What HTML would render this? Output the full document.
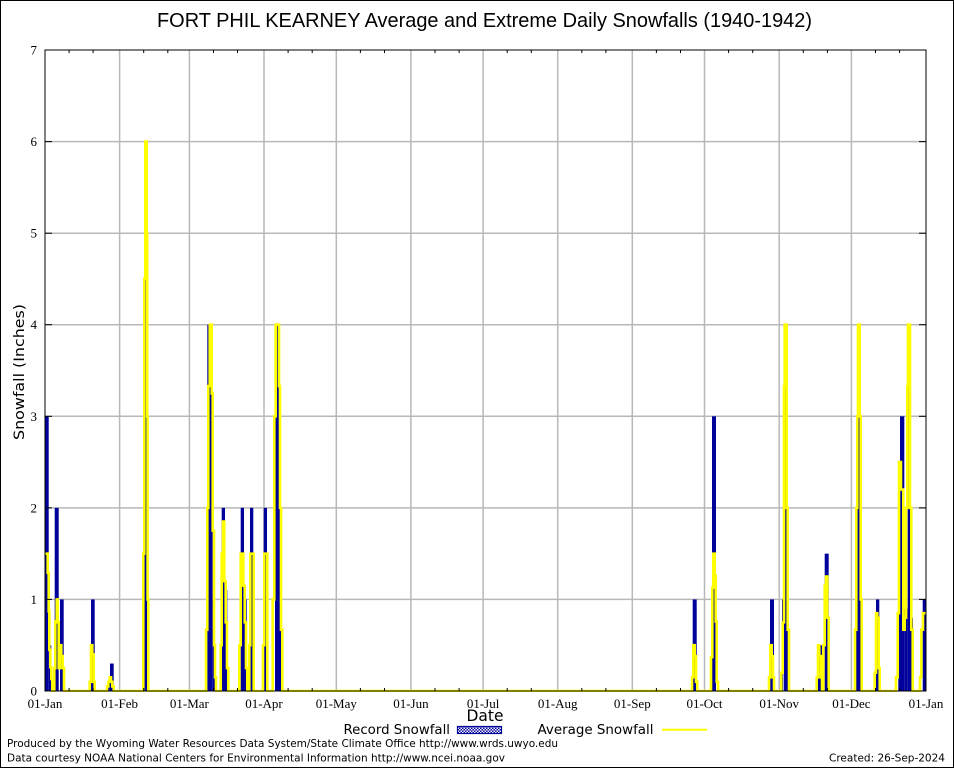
<!DOCTYPE html>
<html>
<head>
<meta charset="utf-8">
<style>
html,body{margin:0;padding:0;background:#fff;}
svg{display:block;}
.ser{font-family:"Liberation Serif","DejaVu Serif",serif;font-size:13px;fill:#000;}
.sans{font-family:"DejaVu Sans","Liberation Sans",sans-serif;fill:#000;}
</style>
</head>
<body>
<svg width="954" height="768" viewBox="0 0 954 768" xmlns="http://www.w3.org/2000/svg">
<defs>
<clipPath id="pc"><rect x="45" y="50" width="881" height="642"/></clipPath>
<pattern id="hatch" width="3" height="3" patternUnits="userSpaceOnUse">
<rect width="3" height="3" fill="#00009a"/>
<rect x="0" y="0" width="1.5" height="1.5" fill="#fff"/>
<rect x="1.5" y="1.5" width="1.5" height="1.5" fill="#fff"/>
</pattern>
</defs>
<rect x="0" y="0" width="954" height="768" fill="#fff"/>
<rect x="0.5" y="0.5" width="953" height="767" fill="none" stroke="#000" stroke-width="1"/>

<!-- Title -->
<text x="484.5" y="27" text-anchor="middle" font-family="Liberation Sans, DejaVu Sans, sans-serif" font-size="20" textLength="655" lengthAdjust="spacingAndGlyphs">FORT PHIL KEARNEY Average and Extreme Daily Snowfalls (1940-1942)</text>

<!-- Grid -->
<g stroke="#b8b8b8" stroke-width="1.5" fill="none">
<line x1="45" y1="599.4" x2="926" y2="599.4"/>
<line x1="45" y1="507.9" x2="926" y2="507.9"/>
<line x1="45" y1="416.3" x2="926" y2="416.3"/>
<line x1="45" y1="324.7" x2="926" y2="324.7"/>
<line x1="45" y1="233.2" x2="926" y2="233.2"/>
<line x1="45" y1="141.6" x2="926" y2="141.6"/>
<line x1="119.6" y1="50" x2="119.6" y2="691"/>
<line x1="189.4" y1="50" x2="189.4" y2="691"/>
<line x1="264" y1="50" x2="264" y2="691"/>
<line x1="336.3" y1="50" x2="336.3" y2="691"/>
<line x1="410.9" y1="50" x2="410.9" y2="691"/>
<line x1="483.1" y1="50" x2="483.1" y2="691"/>
<line x1="557.7" y1="50" x2="557.7" y2="691"/>
<line x1="632.3" y1="50" x2="632.3" y2="691"/>
<line x1="704.5" y1="50" x2="704.5" y2="691"/>
<line x1="779.2" y1="50" x2="779.2" y2="691"/>
<line x1="851.4" y1="50" x2="851.4" y2="691"/>
</g>

<!-- Data -->
<g clip-path="url(#pc)">
<g transform="translate(0,691) scale(1,-91.57)">
<g fill="#00009a">
<rect x="45" y="0" width="3.7" height="3"/>
<rect x="48.7" y="0" width="2.6" height="0.5"/>
<rect x="54.7" y="0" width="4" height="2"/>
<rect x="60" y="0" width="3.7" height="1"/>
<rect x="91" y="0" width="3.7" height="1"/>
<rect x="108" y="0" width="2" height="0.1"/>
<rect x="110" y="0" width="3.7" height="0.3"/>
<rect x="144" y="0" width="4" height="6"/>
<rect x="207.3" y="0" width="5.4" height="4"/>
<rect x="212.7" y="0" width="2.3" height="1"/>
<rect x="215" y="0" width="1" height="0.15"/>
<rect x="221.7" y="0" width="3.3" height="2"/>
<rect x="225" y="0" width="2.3" height="1.1"/>
<rect x="227.3" y="0" width="1" height="0.25"/>
<rect x="238.3" y="0" width="1" height="0.04"/>
<rect x="240.7" y="0" width="3.3" height="2"/>
<rect x="244" y="0" width="2.7" height="1"/>
<rect x="250" y="0" width="3.3" height="2"/>
<rect x="263.7" y="0" width="3.3" height="2"/>
<rect x="275" y="0" width="5" height="4"/>
<rect x="280" y="0" width="2.5" height="0.67"/>
<rect x="692.7" y="0" width="4" height="1"/>
<rect x="712" y="0" width="4" height="3"/>
<rect x="770" y="0" width="4" height="1"/>
<rect x="782" y="0" width="1.3" height="1"/>
<rect x="784" y="0" width="4" height="4"/>
<rect x="788" y="0" width="1.5" height="0.67"/>
<rect x="818" y="0" width="4" height="0.5"/>
<rect x="824.7" y="0" width="4" height="1.5"/>
<rect x="828.7" y="0" width="1.3" height="0.3"/>
<rect x="856" y="0" width="1" height="0.67"/>
<rect x="857" y="0" width="4" height="4"/>
<rect x="861" y="0" width="1.5" height="0.5"/>
<rect x="876" y="0" width="3.3" height="1"/>
<rect x="898.3" y="0" width="1.7" height="1"/>
<rect x="900" y="0" width="4.3" height="3"/>
<rect x="904.3" y="0" width="3.4" height="0.9"/>
<rect x="907.7" y="0" width="3.3" height="4"/>
<rect x="911" y="0" width="2" height="0.8"/>
<rect x="922.7" y="0" width="3.3" height="1"/>
</g>
<path fill="none" stroke="#ffff00" stroke-width="2.6" vector-effect="non-scaling-stroke" stroke-linejoin="miter" d="M45 1.5 H47.7 V1.29 H48.7 V0.87 H49.3 V0.45 H50.3 V0.26 H51.3 V0.13 H52.3 V0 H54.3 V0.25 H55.3 V0.76 H56.7 V1 H57.7 V0.75 H58.7 V0.25 H60 V0.5 H61.3 V0.38 H62.7 V0.25 H64 V0 H89.7 V0.1 H91 V0.5 H92.3 V0.4 H93.7 V0.1 H94.7 V0 H107 V0.05 H108.3 V0.1 H109.7 V0.15 H111 V0.1 H112.3 V0.05 H113.7 V0 H143.3 V1.5 H144.3 V4.5 H145.3 V6 H146.7 V5 H147.2 V3 H147.6 V1 H148.3 V0 H206 V0.67 H207.3 V2 H208.3 V3.33 H209.7 V4 H211.7 V3.25 H212.7 V1.75 H214 V0.5 H215 V0.15 H216 V0 H220.7 V0.5 H221.7 V1.5 H223 V1.85 H224.3 V1.2 H225.7 V0.75 H227 V0.25 H228.3 V0 H239.3 V0.5 H240.7 V1.5 H243.3 V1.15 H244.7 V0.75 H246 V0.25 H247.3 V0 H249.3 V0.5 H250.3 V1.5 H253.7 V0 H263 V0.5 H264.3 V1.5 H267.3 V0 H272.7 V1 H274.3 V3 H275.7 V4 H279 V3.33 H280 V2 H281 V0.67 H282.3 V0 H692 V0.15 H693.3 V0.5 H694.7 V0.38 H696 V0.1 H697.3 V0 H711 V0.37 H712.3 V1.13 H713.3 V1.5 H714.7 V1.26 H715.7 V0.76 H716.7 V0.1 H718 V0 H769 V0.15 H770.3 V0.5 H771.7 V0.38 H773 V0.15 H774 V0 H781.3 V0.2 H782.7 V0.75 H784 V3.33 H784.7 V4 H786.7 V2 H787.7 V0.67 H789 V0 H816.7 V0.15 H818 V0.5 H819.3 V0.38 H820.7 V0.15 H822 V0 H823.3 V0.5 H824.7 V1.15 H826 V1.25 H827.3 V0.8 H828.7 V0 H855 V0.67 H856.3 V2 H857.3 V3 H858 V4 H859.7 V3 H860.7 V1 H861.7 V0 H874.7 V0.2 H876 V0.85 H877.3 V0.8 H878.7 V0.25 H879.7 V0 H896 V0.15 H897.7 V0.85 H899 V2.5 H901 V2.2 H903.3 V0.67 H904.7 V0.8 H906 V2 H907.3 V3.33 H908 V4 H910 V2 H911.3 V0.67 H912.7 V0 H920 V0.15 H921.3 V0.67 H923 V0.85 H927"/>
</g>
</g>

<!-- Axes border -->
<rect x="45" y="50" width="881" height="641" fill="none" stroke="#000" stroke-width="1"/>

<!-- Ticks -->
<g stroke="#000" stroke-width="1">
<line x1="45" y1="691" x2="52" y2="691"/><line x1="919" y1="691" x2="926" y2="691"/>
<line x1="45" y1="599.4" x2="52" y2="599.4"/><line x1="919" y1="599.4" x2="926" y2="599.4"/>
<line x1="45" y1="507.9" x2="52" y2="507.9"/><line x1="919" y1="507.9" x2="926" y2="507.9"/>
<line x1="45" y1="416.3" x2="52" y2="416.3"/><line x1="919" y1="416.3" x2="926" y2="416.3"/>
<line x1="45" y1="324.7" x2="52" y2="324.7"/><line x1="919" y1="324.7" x2="926" y2="324.7"/>
<line x1="45" y1="233.2" x2="52" y2="233.2"/><line x1="919" y1="233.2" x2="926" y2="233.2"/>
<line x1="45" y1="141.6" x2="52" y2="141.6"/><line x1="919" y1="141.6" x2="926" y2="141.6"/>
<line x1="45" y1="50" x2="52" y2="50"/><line x1="919" y1="50" x2="926" y2="50"/>
</g>
<g stroke="#000" stroke-width="1">
<path d="M69.1 691v-3M69.1 50v3M93.1 691v-3M93.1 50v3
M143.7 691v-3M143.7 50v3M167.8 691v-3M167.8 50v3
M213.5 691v-3M213.5 50v3M237.5 691v-3M237.5 50v3
M288.1 691v-3M288.1 50v3M312.2 691v-3M312.2 50v3
M360.4 691v-3M360.4 50v3M384.5 691v-3M384.5 50v3
M435 691v-3M435 50v3M459.1 691v-3M459.1 50v3
M507.2 691v-3M507.2 50v3M531.3 691v-3M531.3 50v3
M581.8 691v-3M581.8 50v3M605.9 691v-3M605.9 50v3
M656.4 691v-3M656.4 50v3M680.5 691v-3M680.5 50v3
M728.6 691v-3M728.6 50v3M752.7 691v-3M752.7 50v3
M803.3 691v-3M803.3 50v3M827.4 691v-3M827.4 50v3
M875.5 691v-3M875.5 50v3M899.6 691v-3M899.6 50v3"/>
</g>

<!-- Y tick labels -->
<g class="ser" text-anchor="end">
<text x="37" y="695.5">0</text>
<text x="37" y="604">1</text>
<text x="37" y="512.5">2</text>
<text x="37" y="421">3</text>
<text x="37" y="329">4</text>
<text x="37" y="237.5">5</text>
<text x="37" y="146">6</text>
<text x="37" y="54.5">7</text>
</g>

<!-- X tick labels -->
<g class="ser" text-anchor="middle">
<text x="45" y="708">01-Jan</text>
<text x="119.6" y="708">01-Feb</text>
<text x="189.4" y="708">01-Mar</text>
<text x="264" y="708">01-Apr</text>
<text x="336.3" y="708">01-May</text>
<text x="410.9" y="708">01-Jun</text>
<text x="483.1" y="708">01-Jul</text>
<text x="557.7" y="708">01-Aug</text>
<text x="632.3" y="708">01-Sep</text>
<text x="704.5" y="708">01-Oct</text>
<text x="779.2" y="708">01-Nov</text>
<text x="851.4" y="708">01-Dec</text>
<text x="926" y="708">01-Jan</text>
</g>

<!-- Axis titles -->
<text class="sans" x="485" y="721" text-anchor="middle" font-size="16" textLength="37" lengthAdjust="spacingAndGlyphs">Date</text>
<text class="sans" transform="translate(24,372) rotate(-90)" text-anchor="middle" font-size="14" textLength="136" lengthAdjust="spacingAndGlyphs">Snowfall (Inches)</text>

<!-- Legend -->
<text class="sans" x="343.5" y="734" font-size="13" textLength="106.5" lengthAdjust="spacingAndGlyphs">Record Snowfall</text>
<rect x="457.5" y="726.5" width="44" height="7" fill="url(#hatch)" stroke="#00009a" stroke-width="1.2"/>
<text class="sans" x="537.5" y="734" font-size="13" textLength="116" lengthAdjust="spacingAndGlyphs">Average Snowfall</text>
<line x1="662" y1="729.7" x2="707" y2="729.7" stroke="#ffff00" stroke-width="2"/>

<!-- Footer -->
<text class="sans" x="7" y="747" font-size="11" textLength="551" lengthAdjust="spacingAndGlyphs">Produced by the Wyoming Water Resources Data System/State Climate Office http://www.wrds.uwyo.edu</text>
<text class="sans" x="7" y="761.5" font-size="11" textLength="498" lengthAdjust="spacingAndGlyphs">Data courtesy NOAA National Centers for Environmental Information http://www.ncei.noaa.gov</text>
<text class="sans" x="945" y="761.5" font-size="11" text-anchor="end" textLength="116" lengthAdjust="spacingAndGlyphs">Created: 26-Sep-2024</text>
</svg>
</body>
</html>
